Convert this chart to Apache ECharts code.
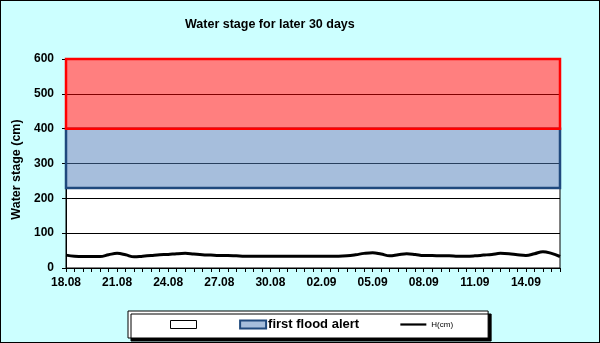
<!DOCTYPE html>
<html>
<head>
<meta charset="utf-8">
<script src="https://cdn.jsdelivr.net/npm/echarts@6/dist/echarts.min.js"></script>
<style>
html,body{margin:0;padding:0;background:#ccffff;}
#c{width:598px;height:341px;border:1px solid #000;background:#ccffff;}
</style>
</head>
<body>
<div id="c"></div>
<script>
// time steps: 12-hourly from 18.08 to 16.09
const timeLabels = [
 "18.08 00h","18.08 12h","19.08 00h","19.08 12h","20.08 00h","20.08 12h",
 "21.08 00h","21.08 12h","22.08 00h","22.08 12h","23.08 00h","23.08 12h",
 "24.08 00h","24.08 12h","25.08 00h","25.08 12h","26.08 00h","26.08 12h",
 "27.08 00h","27.08 12h","28.08 00h","28.08 12h","29.08 00h","29.08 12h",
 "30.08 00h","30.08 12h","31.08 00h","31.08 12h","01.09 00h","01.09 12h",
 "02.09 00h","02.09 12h","03.09 00h","03.09 12h","04.09 00h","04.09 12h",
 "05.09 00h","05.09 12h","06.09 00h","06.09 12h","07.09 00h","07.09 12h",
 "08.09 00h","08.09 12h","09.09 00h","09.09 12h","10.09 00h","10.09 12h",
 "11.09 00h","11.09 12h","12.09 00h","12.09 12h","13.09 00h","13.09 12h",
 "14.09 00h","14.09 12h","15.09 00h","15.09 12h","16.09 00h"
];
// water stage H (cm)
const waterStage = [
 37,34,33,33,33,38,42,38,32,34,36,38,39,41,42,40,38,37,36,36,
 35,34,34,34,34,34,34,34,34,34,34,34,34,35,38,42,44,40,35,38,
 41,39,36,36,35,35,34,34,35,37,39,42,41,38,36,41,47,42,33
];
// alert bands (cm)
const firstAlertBand = [230, 400];
const secondAlertBand = [400, 600];
const yTicks = {min: 0, max: 600, interval: 100};

const FONT = '"Liberation Sans", Arial, sans-serif';
const chart = echarts.init(document.getElementById('c'));
chart.setOption({
  backgroundColor: '#ccffff',
  animation: false,
  title: {
    text: 'Water stage for later 30 days',
    left: 179, top: 12,
    textStyle: {fontFamily: FONT, fontSize: 12.5, fontWeight: 'bold', color: '#000'}
  },
  legend: {
    left: 127, top: 310,
    padding: [7, 35, 7, 42],
    itemGap: 34,
    itemWidth: 26, itemHeight: 8,
    symbolKeepAspect: true,
    backgroundColor: '#fff',
    borderColor: '#000', borderWidth: 1,
    shadowColor: '#000', shadowOffsetX: 3, shadowOffsetY: 3, shadowBlur: 0,
    textStyle: {fontFamily: FONT, fontSize: 13, fontWeight: 'bold', color: '#000'},
    formatter: name => name === 'first flood alert' ? name + '  ' : name,
    data: [
      {name: ' ', icon: 'rect', itemStyle: {color: '#fff', borderColor: '#000', borderWidth: 1}},
      {name: 'first flood alert', icon: 'rect', itemStyle: {color: '#a6bedc', borderColor: '#1f497d', borderWidth: 2},
       textStyle: {padding: [0, 0, 0, -3]}},
      {name: 'H(cm)', icon: 'path://M0,0H26V2.2H0Z', itemStyle: {color: '#000'},
       textStyle: {fontSize: 8, fontWeight: 'normal'}}
    ]
  },
  grid: {
    left: 65, right: 39, top: 58, bottom: 74,
    show: true, backgroundColor: '#fff', borderColor: '#000', borderWidth: 1
  },
  xAxis: {
    type: 'category',
    data: timeLabels,
    boundaryGap: false,
    axisLine: {lineStyle: {color: '#000', width: 1}},
    axisTick: {interval: 0, length: 4, lineStyle: {color: '#000'}},
    axisLabel: {
      interval: 5, margin: 9, color: '#000',
      fontFamily: FONT, fontSize: 12, fontWeight: 'bold',
      formatter: v => v.slice(0, 5)
    },
    splitLine: {show: false}
  },
  yAxis: {
    type: 'value',
    min: yTicks.min, max: yTicks.max, interval: yTicks.interval,
    name: 'Water stage (cm)',
    nameLocation: 'middle', nameGap: 41,
    nameTextStyle: {fontFamily: FONT, fontSize: 12.5, fontWeight: 'bold', color: '#000', padding: [0, 0, 0, -12]},
    axisLine: {show: true, lineStyle: {color: '#000'}},
    axisTick: {show: true, length: 4, lineStyle: {color: '#000'}},
    axisLabel: {margin: 12, color: '#000', fontFamily: FONT, fontSize: 12, fontWeight: 'bold'},
    splitLine: {show: true, lineStyle: {color: '#000', width: 1}}
  },
  series: [
    {
      name: ' ', type: 'line', data: [], silent: true,
      itemStyle: {color: '#fff', borderColor: '#000'}
    },
    {
      name: 'first flood alert', type: 'line', data: [], silent: true,
      itemStyle: {color: '#a6bedc'},
      markArea: {
        silent: true,
        itemStyle: {color: 'rgba(77,125,185,0.5)', borderColor: '#1f497d', borderWidth: 2.5},
        data: [[{yAxis: firstAlertBand[0]}, {yAxis: firstAlertBand[1]}]]
      }
    },
    {
      name: 'second alert', type: 'line', data: [], silent: true,
      markArea: {
        silent: true,
        itemStyle: {color: 'rgba(255,0,0,0.5)', borderColor: '#ff0000', borderWidth: 2.5},
        data: [[{yAxis: secondAlertBand[0]}, {yAxis: secondAlertBand[1]}]]
      }
    },
    {
      name: 'H(cm)', type: 'line', data: waterStage,
      smooth: 0.4, symbol: 'none',
      lineStyle: {color: '#000', width: 3},
      itemStyle: {color: '#000'},
      z: 5
    }
  ]
});
</script>
</body>
</html>
